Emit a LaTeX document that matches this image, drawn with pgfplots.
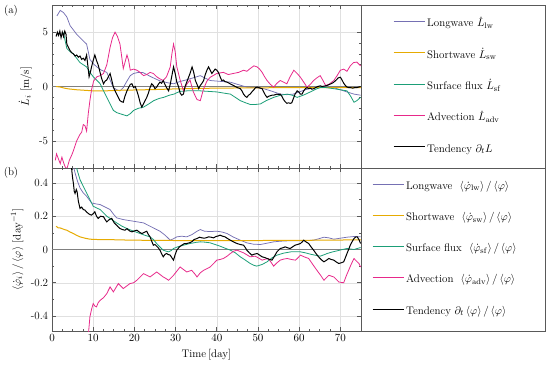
\documentclass[border=0pt]{standalone}
\usepackage{pgfplots}
\usepackage{pgfplotstable}
\pgfplotsset{compat=1.18}
\definecolor{clw}{HTML}{7570B3}
\definecolor{csw}{HTML}{E6AB02}
\definecolor{csf}{HTML}{1B9E77}
\definecolor{cadv}{HTML}{E7298A}
\definecolor{frame}{gray}{0.35}

% ---------- panel (a) ----------
\pgfplotstableread{
t v
1.2 6.5
2 7.0
2.8 6.8
3.6 6.4
4.4 5.6
5.2 5.2
6 4.8
6.8 4.5
7.6 4.2
8.4 3.9
9.2 2.5
10 2.1
10.9 1.8
12 1.5
13.3 1.3
14.1 0.6
14.9 -0.1
15.7 -0.3
16.5 -0.4
17.3 -0.1
18.2 0.5
19 1.0
19.8 1.2
21 1.3
22 1.3
23 1.1
24 0.9
26 0.55
28 0.35
29.5 0.25
31 0.45
32.5 0.6
34.3 0.8
36 1.0
37 0.8
38.4 0.55
40 0.5
41.6 0.45
43.3 0.4
45 0.2
47.3 -0.06
49 -0.1
51.4 -0.2
53.5 -0.45
55.4 -0.7
57 -0.75
58.6 -0.7
60 -0.5
61.5 -0.3
63.5 -0.1
66 -0.05
68.3 -0.1
70 -0.3
71.6 -0.5
73.3 -0.7
74.9 -0.8
}\alw
\pgfplotstableread{
t v
1 0
2 -0.05
3 -0.15
4 -0.22
6 -0.3
8 -0.35
10 -0.4
13 -0.4
16 -0.35
20 -0.32
25 -0.28
30 -0.22
35 -0.18
40 -0.15
50 -0.12
60 -0.1
70 -0.1
75 -0.1
}\asw
\pgfplotstableread{
t v
2.5 5.0
2.8 4.9
3.2 4.2
3.6 3.5
4.4 3.2
5.2 3.0
6 2.6
6.8 2.2
7.6 2.0
8.4 1.8
9.2 1.3
10 0.9
10.8 0.6
11.7 0.25
12.5 -0.4
13.3 -1.0
14.1 -1.6
14.9 -2.2
15.7 -2.4
16.5 -2.5
17.3 -2.6
18.2 -2.7
19 -2.5
19.8 -2.2
21 -2.0
22.2 -1.9
23.5 -1.6
24.7 -1.3
26 -1.1
27.1 -1.0
28.5 -0.8
29.6 -0.7
31 -0.45
32.8 -0.4
34.5 -0.4
36 -0.4
38 -0.45
40 -0.5
41.6 -0.6
43.3 -0.7
44.5 -1.0
45.7 -1.3
47 -1.5
48.1 -1.65
49.5 -1.65
50.6 -1.6
52 -1.3
53.8 -1.0
55.5 -0.8
57.1 -0.7
58.3 -0.8
59.5 -1.0
61 -0.8
62.7 -0.5
64 -0.25
65.1 -0.1
66.5 -0.1
68.4 -0.2
70 -0.3
71.6 -0.4
72.5 -0.9
73.3 -1.45
74 -1.3
74.9 -1.0
}\asf
\pgfplotstableread{
t v
0.8 -6.8
1.1 -6.2
1.5 -6.6
2 -7.1
2.4 -6.5
2.8 -7.0
3.2 -7.4
3.6 -7.6
4.2 -6.8
4.8 -6.3
5.2 -5.9
6 -5.0
6.8 -4.4
7.2 -4.2
7.6 -3.5
8.0 -3.6
8.4 -4.1
8.8 -2.5
9.2 -1.3
9.6 -0.3
10.1 0.5
10.9 0.9
11.7 1.0
12.5 1.2
13.3 2.0
14.1 3.6
14.7 4.5
15.3 5.0
15.9 4.6
16.5 3.9
16.9 2.8
17.3 1.65
17.7 2.2
18.2 2.9
18.6 2.4
19 1.5
19.8 1.6
20.6 1.5
21.4 1.3
22.2 1.0
23 1.1
23.8 1.3
24.6 1.2
25.4 0.9
26.2 0.7
27 0.55
27.8 0.9
28.7 1.8
29.1 3.0
29.5 3.9
29.9 3.2
30.3 1.8
31.1 0.6
31.9 -0.4
32.7 0.2
33.5 0.6
34.3 -0.5
35.2 -1.2
36 -1.3
36.8 -0.2
37.6 0.5
38.4 0.85
40 1.2
41.6 1.3
42.8 1.1
44 1.2
45.3 1.3
46.5 1.5
47.3 1.4
48.1 1.65
49 1.9
49.8 1.8
50.4 1.6
51 1.3
51.6 0.9
52.2 0.55
53 0.2
53.8 -0.06
54.6 0.3
55.4 0.55
56.2 0.4
57 0.25
57.8 0.9
58.7 1.5
59.5 1.2
60.3 0.85
61.1 0.4
61.9 -0.06
62.7 0.2
63.5 0.55
64.3 0.8
65.1 1.0
65.7 0.6
66.4 0.1
67.2 0.2
68.4 0.55
69.2 1.0
70 1.5
70.8 1.6
71.6 1.4
72.4 1.9
73.2 2.2
74 2.25
74.9 1.9
}\aadv
\pgfplotstableread{
t v
1.0 4.6
1.3 5.0
1.6 4.7
1.9 5.1
2.2 4.5
2.5 5.0
2.8 4.6
3.1 5.1
3.4 4.8
3.6 3.9
4.0 3.6
4.4 3.3
4.8 3.1
5.2 3.0
5.6 2.8
6.0 2.9
6.4 2.7
6.8 2.8
7.2 2.5
7.6 2.6
8.0 2.4
8.4 2.9
8.8 1.6
9.0 0.9
9.3 1.3
9.6 1.8
10.0 2.4
10.4 2.9
10.8 2.4
11.2 2.0
11.6 1.4
12.0 0.8
12.5 0.25
12.9 0.5
13.3 0.6
13.7 0.9
14.1 1.2
14.5 0.6
14.9 -0.06
15.3 -0.4
15.7 -0.7
16.1 -1.0
16.5 -1.3
16.9 -1.4
17.3 -1.45
17.7 -0.9
18.2 -0.4
18.6 -0.1
19.0 0.2
19.4 0.25
19.8 -0.1
20.2 0.0
20.6 -0.4
21.0 -0.9
21.4 -1.5
21.8 -1.9
22.2 -1.6
22.6 -1.3
23.0 -1.0
23.4 -0.6
23.8 -0.1
24.2 0.25
24.6 0.1
25.0 -0.2
25.4 -0.06
25.8 0.2
26.2 0.4
26.6 0.3
27.0 0.55
27.4 0.2
27.8 -0.1
28.3 -0.4
28.7 0.2
29.1 1.0
29.5 1.8
29.9 1.2
30.3 0.4
30.7 0.0
31.1 -0.6
31.5 -0.8
31.9 -0.7
32.3 0.0
32.7 0.4
33.1 0.8
33.5 1.2
34.0 1.8
34.4 1.3
34.8 0.55
35.2 0.2
35.6 -0.2
36.0 0.1
36.4 0.3
36.8 0.55
37.2 1.1
37.6 1.5
38.0 1.8
38.4 1.5
38.8 1.2
39.2 1.4
39.6 1.6
40.0 1.5
40.4 1.3
40.8 0.9
41.2 0.55
41.6 0.6
42.0 0.45
42.5 0.4
43.0 0.3
43.5 0.2
44.0 0.1
44.5 0.0
45.0 -0.1
45.7 -0.2
46.1 -0.4
46.5 -0.7
46.9 -0.9
47.3 -1.0
47.7 -0.8
48.1 -0.7
48.5 -0.5
49.0 -0.3
49.4 -0.1
49.8 -0.06
50.2 -0.1
50.6 -0.15
51.0 -0.2
51.4 -0.5
51.8 -0.8
52.2 -1.0
52.6 -0.9
53.0 -0.85
53.4 -0.8
53.8 -0.8
54.2 -0.75
54.6 -0.7
55.0 -0.75
55.4 -0.7
55.8 -0.9
56.2 -1.2
56.6 -1.4
57.0 -1.55
57.4 -1.5
57.8 -1.55
58.2 -1.5
58.6 -1.1
59.0 -0.7
59.5 -0.4
59.9 -0.5
60.3 -0.7
60.7 -0.7
61.1 -0.4
61.5 -0.2
61.9 -0.1
62.3 -0.2
62.7 -0.15
63.1 -0.25
63.5 -0.2
64.0 -0.1
64.5 0.0
65.1 0.06
65.6 0.0
66.2 0.05
66.8 0.1
67.4 0.2
68.0 0.3
68.4 0.4
69.0 0.6
69.5 0.8
70.0 0.85
70.4 0.6
70.8 0.3
71.2 0.1
71.6 -0.05
72.0 -0.1
72.4 -0.1
73.0 -0.15
73.5 -0.1
74.0 -0.1
74.5 -0.05
74.9 0.0
}\aten

% ---------- panel (b) ----------
\pgfplotstableread{
t v
5.0 0.52
5.6 0.46
6.2 0.41
6.8 0.37
7.6 0.34
8.4 0.32
9.0 0.3
9.6 0.28
10.5 0.275
11.7 0.27
12.9 0.255
14.1 0.24
15.0 0.21
15.7 0.19
16.5 0.185
17.3 0.18
18.5 0.175
19.8 0.17
21.0 0.165
22.2 0.16
23.0 0.15
23.8 0.14
25.0 0.125
26.2 0.11
27.5 0.085
28.7 0.056
29.5 0.065
30.3 0.076
31.5 0.08
32.7 0.076
34.0 0.09
35.2 0.11
36.0 0.12
37.0 0.11
38.4 0.108
40.0 0.11
41.3 0.105
42.5 0.096
44.0 0.075
45.7 0.056
47.3 0.04
48.9 0.032
50.6 0.03
52.2 0.038
53.8 0.046
55.5 0.05
57.1 0.052
60.3 0.052
63.5 0.056
64.8 0.065
66.0 0.074
67.2 0.07
68.4 0.062
70.0 0.068
71.6 0.074
73.3 0.078
74.9 0.076
}\blw
\pgfplotstableread{
t v
1.0 0.14
1.5 0.13
1.9 0.13
2.5 0.125
3.0 0.12
3.6 0.116
4.4 0.105
5.2 0.096
6.0 0.085
6.8 0.076
8.0 0.068
9.2 0.062
11 0.06
13.3 0.06
16 0.058
19.8 0.056
25 0.055
30 0.054
40 0.054
50 0.054
60 0.055
70 0.057
75 0.058
}\bsw
\pgfplotstableread{
t v
5.8 0.52
6.0 0.487
6.8 0.42
7.6 0.38
8.4 0.34
9.2 0.3
10.0 0.26
10.8 0.25
11.7 0.24
12.5 0.22
13.3 0.2
14.5 0.18
15.7 0.16
17.0 0.14
18.2 0.126
19.8 0.11
21.4 0.096
22.6 0.085
23.8 0.076
24.6 0.06
25.4 0.036
26.2 0.015
27.0 -0.004
27.7 -0.01
28.3 -0.014
29.0 -0.005
29.5 0.006
30.5 0.016
31.9 0.026
33.5 0.036
35 0.043
36 0.046
37.2 0.044
38.4 0.04
39.6 0.03
40.8 0.02
42 0.008
43.3 -0.004
44.5 -0.02
45.7 -0.044
47 -0.065
48.1 -0.084
49.0 -0.095
49.7 -0.1
51 -0.09
52.2 -0.074
53.4 -0.05
54.6 -0.034
56.2 -0.022
58.0 -0.014
60.3 -0.014
61.5 -0.02
62.7 -0.028
64 -0.035
65.1 -0.04
66 -0.032
66.8 -0.024
68 -0.015
69.2 -0.008
70.5 0.0
71.6 0.006
72.5 0.003
73.3 0.0
74.1 0.006
74.9 0.012
}\bsf
\pgfplotstableread{
t v
8.8 -0.52
9.2 -0.405
9.6 -0.36
10.0 -0.325
10.4 -0.34
10.8 -0.345
11.2 -0.32
11.7 -0.305
12.5 -0.29
13.3 -0.265
13.7 -0.245
14.1 -0.225
14.5 -0.24
14.9 -0.255
15.5 -0.23
16.1 -0.205
16.7 -0.22
17.3 -0.235
18.1 -0.22
18.9 -0.205
19.8 -0.2
20.6 -0.185
21.4 -0.165
22.2 -0.145
23.0 -0.155
23.8 -0.165
24.6 -0.15
25.4 -0.135
26.2 -0.15
27.0 -0.165
27.7 -0.175
28.3 -0.185
28.9 -0.17
29.5 -0.155
30.3 -0.13
31.1 -0.105
31.9 -0.12
32.7 -0.135
33.3 -0.13
33.9 -0.125
34.6 -0.145
35.2 -0.165
36.0 -0.14
36.8 -0.125
37.6 -0.115
38.4 -0.105
39.2 -0.085
40.0 -0.064
40.8 -0.06
41.6 -0.054
42.5 -0.04
43.3 -0.024
44.1 -0.01
44.9 -0.004
45.7 -0.012
46.5 -0.02
47.3 -0.032
48.1 -0.044
48.7 -0.042
49.3 -0.04
50.2 -0.052
51.0 -0.064
51.8 -0.058
52.5 -0.054
53.2 -0.078
53.8 -0.1
54.6 -0.08
55.4 -0.064
56.2 -0.058
57.1 -0.054
58.1 -0.06
59.1 -0.064
59.7 -0.05
60.3 -0.034
61.3 -0.045
62.3 -0.054
63.3 -0.09
64.3 -0.125
65.2 -0.155
66.0 -0.185
66.6 -0.17
67.2 -0.155
67.8 -0.16
68.4 -0.165
69.0 -0.18
69.6 -0.195
70.2 -0.198
70.8 -0.2
71.4 -0.16
72.0 -0.125
72.6 -0.09
73.3 -0.054
73.9 -0.07
74.5 -0.084
74.9 -0.105
}\badv
\pgfplotstableread{
t v
4.6 0.52
4.8 0.477
5.0 0.43
5.2 0.397
5.4 0.35
5.6 0.337
5.9 0.36
6.1 0.347
6.4 0.29
6.8 0.247
7.2 0.255
7.6 0.24
8.0 0.237
8.4 0.225
8.8 0.217
9.2 0.21
9.6 0.207
10.0 0.215
10.4 0.227
10.8 0.2
11.2 0.187
11.8 0.2
12.5 0.197
12.9 0.18
13.3 0.166
13.9 0.18
14.5 0.187
15.1 0.16
15.7 0.146
16.1 0.135
16.5 0.126
17.1 0.12
17.7 0.116
18.2 0.125
18.8 0.112
19.4 0.106
20.0 0.112
20.6 0.116
21.2 0.105
21.8 0.096
22.4 0.103
23.0 0.11
23.4 0.09
23.8 0.076
24.2 0.05
24.6 0.026
25.0 0.03
25.4 0.02
25.8 0.01
26.2 -0.004
26.6 -0.025
27.0 -0.044
27.4 -0.03
27.8 -0.024
28.2 -0.03
28.7 -0.034
29.1 -0.05
29.5 -0.064
29.9 -0.03
30.3 -0.004
30.9 0.015
31.5 0.026
32.1 0.035
32.7 0.036
33.3 0.04
33.9 0.046
34.5 0.06
35.2 0.066
35.8 0.074
36.4 0.07
37.0 0.068
37.6 0.072
38.0 0.076
38.6 0.074
39.2 0.07
39.8 0.078
40.4 0.082
40.8 0.086
41.4 0.08
42.0 0.076
42.6 0.066
43.3 0.056
44.1 0.045
44.9 0.036
45.7 0.03
46.5 0.026
46.9 0.012
47.3 -0.004
47.9 -0.02
48.5 -0.034
49.1 -0.028
49.8 -0.024
50.4 -0.034
51.0 -0.044
51.6 -0.048
52.2 -0.054
52.8 -0.06
53.4 -0.064
54.0 -0.04
54.6 -0.014
55.0 -0.004
55.4 0.006
56.0 0.01
56.6 0.016
57.2 0.01
57.8 0.006
58.4 0.016
59.0 0.026
59.6 0.03
60.3 0.036
60.7 0.045
61.1 0.056
61.7 0.045
62.3 0.036
62.9 0.015
63.5 -0.004
64.1 -0.025
64.7 -0.044
65.3 -0.06
66.0 -0.074
66.6 -0.065
67.2 -0.054
67.8 -0.06
68.4 -0.064
69.0 -0.075
69.6 -0.084
70.2 -0.08
70.8 -0.074
71.2 -0.05
71.6 -0.024
72.0 0.0
72.4 0.026
72.8 0.045
73.3 0.066
73.7 0.075
74.1 0.076
74.5 0.06
74.9 0.036
}\bten

\pgfplotsset{
  panel/.style={
    scale only axis, width=309pt, height=163pt,
    xmin=0, xmax=75,
    xtick={0,10,20,30,40,50,60,70},
    minor x tick num=3,
    tick align=inside,
    axis line style={draw=frame, line width=0.8pt},
    major tick length=4pt, minor tick length=2pt,
    every tick/.style={frame, line width=0.6pt},
    grid=major, major grid style={black!12, line width=0.5pt},
    legend cell align=left,
    legend image code/.code={\draw[##1] (0pt,2.7pt) -- (31pt,2.7pt);},
  },
  lw/.style={clw, line width=0.75pt},
  sw/.style={csw, line width=1.0pt},
  sf/.style={csf, line width=0.8pt},
  adv/.style={cadv, line width=0.8pt},
  ten/.style={black, line width=1.0pt},
}

\begin{document}
\fontsize{11pt}{13.2pt}\selectfont
\begin{tikzpicture}[x=1pt,y=1pt]
\path[use as bounding box] (0,0) rectangle (548,369);

\begin{axis}[panel,
  at={(52pt,201pt)}, anchor=south west,
  ymin=-7.5, ymax=7.5,
  ytick={-5,0,5}, yticklabels={-5,0,5},
  minor y tick num=4,
  xticklabels={},
  ylabel={$\dot{L}_i\ [\mathrm{m/s}]$},
  legend style={at={(1.1036,0.497)}, anchor=west, draw=none, fill=none,
    inner sep=0pt, row sep=20.3pt, column sep=2pt,
    nodes={inner sep=0pt, text height=8pt, text depth=3pt}},
]
\addplot[black!50, line width=0.8pt, forget plot] coordinates {(0,0) (75,0)};
\addplot[lw] table[x=t,y=v] {\alw};
\addplot[sw] table[x=t,y=v] {\asw};
\addplot[sf] table[x=t,y=v] {\asf};
\addplot[adv] table[x=t,y=v] {\aadv};
\addplot[ten] table[x=t,y=v] {\aten};
\legend{Longwave $\dot{L}_{\mathrm{lw}}$, Shortwave $\dot{L}_{\mathrm{sw}}$, Surface flux $\dot{L}_{\mathrm{sf}}$, Advection $\dot{L}_{\mathrm{adv}}$, Tendency $\partial_t L$}
\end{axis}

\begin{axis}[panel,
  at={(52pt,38pt)}, anchor=south west,
  ymin=-0.49, ymax=0.49,
  ytick={-0.4,-0.2,0,0.2,0.4}, yticklabels={-0.4,-0.2,0,0.2,0.4},
  minor y tick num=1,
  xlabel={Time$\,[\mathrm{day}]$},
  ylabel={$\langle\dot{\varphi}_i\rangle\,/\,\langle\varphi\rangle\ [\mathrm{day}^{-1}]$},
  legend style={at={(1.0356,0.502)}, anchor=west, draw=none, fill=none,
    inner sep=0pt, row sep=20.3pt, column sep=2pt,
    nodes={inner sep=0pt, text height=8pt, text depth=3pt}},
]
\addplot[black!50, line width=0.8pt, forget plot] coordinates {(0,0) (75,0)};
\addplot[lw] table[x=t,y=v] {\blw};
\addplot[sw] table[x=t,y=v] {\bsw};
\addplot[sf] table[x=t,y=v] {\bsf};
\addplot[adv] table[x=t,y=v] {\badv};
\addplot[ten] table[x=t,y=v] {\bten};
\legend{Longwave\ \ $\langle\dot{\varphi}_{\mathrm{lw}}\rangle\,/\,\langle\varphi\rangle$,
        Shortwave\ \ $\langle\dot{\varphi}_{\mathrm{sw}}\rangle\,/\,\langle\varphi\rangle$,
        Surface flux\ \ $\langle\dot{\varphi}_{\mathrm{sf}}\rangle\,/\,\langle\varphi\rangle$,
        Advection\ \ $\langle\dot{\varphi}_{\mathrm{adv}}\rangle\,/\,\langle\varphi\rangle$,
        Tendency $\partial_t\,\langle\varphi\rangle\,/\,\langle\varphi\rangle$}
\end{axis}

\draw[frame, line width=0.8pt] (361,201) rectangle (545,364);
\draw[frame, line width=0.8pt] (361,38) rectangle (545,201);
\node at (11,358) {(a)};
\node at (11,196) {(b)};
\end{tikzpicture}
\end{document}
